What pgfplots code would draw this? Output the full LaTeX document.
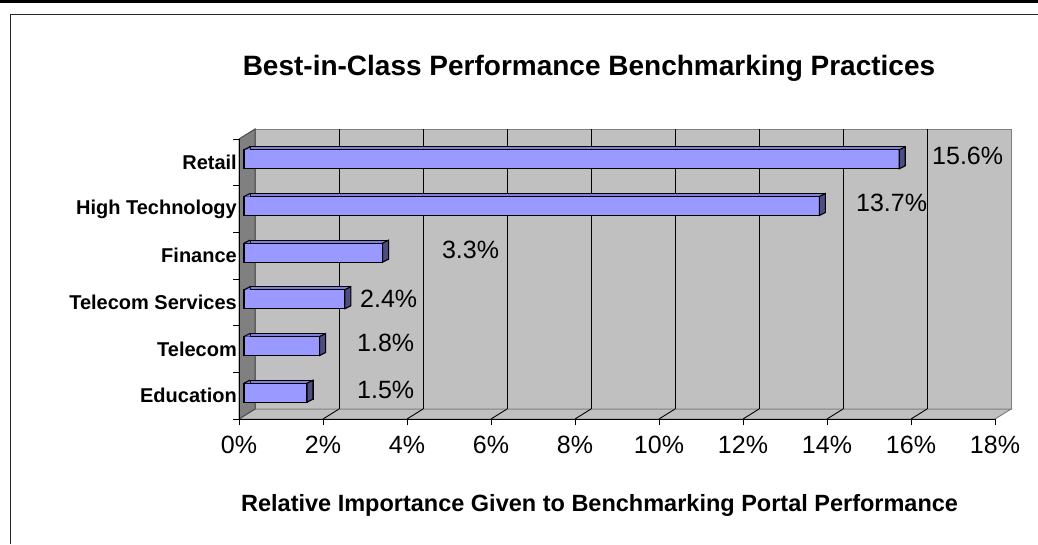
\documentclass[border=0pt]{standalone}
\usepackage{pgfplots}
\pgfplotsset{compat=1.18}
\usepackage{fontspec}
\setmainfont{Liberation Sans}
\definecolor{barfront}{HTML}{9999FF}
\definecolor{bartop}{HTML}{8080D8}
\definecolor{barside}{HTML}{4D4D80}
\definecolor{wall}{HTML}{C0C0C0}
\definecolor{sidewall}{HTML}{808080}
\pgfdeclareplotmark{barcap}{%
  \pgfpathmoveto{\pgfqpoint{5pt}{-6.5pt}}%
  \pgfpathlineto{\pgfqpoint{5pt}{12.5pt}}%
  \pgfpathlineto{\pgfqpoint{11pt}{15.5pt}}%
  \pgfpathlineto{\pgfqpoint{11pt}{-3.5pt}}%
  \pgfpathclose
  \pgfusepathqfillstroke}
\pgfdeclareplotmark{barstart}{%
  \pgfpathmoveto{\pgfqpoint{5pt}{12.5pt}}%
  \pgfpathlineto{\pgfqpoint{11pt}{15.5pt}}%
  \pgfpathlineto{\pgfqpoint{11pt}{12.5pt}}%
  \pgfpathclose
  \pgfusepathqfill
  \pgfpathmoveto{\pgfqpoint{5pt}{12.5pt}}%
  \pgfpathlineto{\pgfqpoint{11pt}{15.5pt}}%
  \pgfusepathqstroke}
\pgfplotstableread{
val idx
1.5 0
1.8 1
2.4 2
3.3 3
13.7 4
15.6 5
}\datatable
\pgfplotstableread{
x y
0 0
0 1
0 2
0 3
0 4
0 5
}\starttable
\begin{document}
\begin{tikzpicture}
\draw[black, line width=2.7pt] (0pt,542.65pt) -- (1038pt,542.65pt);
\draw[black!85, line width=1.8pt] (10.5pt,0pt) -- (10.5pt,529.5pt) -- (1038pt,529.5pt);
\begin{axis}[
  set layers,
  at={(239pt,125pt)}, anchor=south west,
  scale only axis, width=756pt, height=280pt,
  xmin=0, xmax=18, ymin=-0.5, ymax=5.5,
  clip=false,
  axis x line=bottom, axis y line=left,
  axis line style={-, black, line width=1pt},
  xtick={0,2,...,18},
  xticklabels={0\%,2\%,4\%,6\%,8\%,10\%,12\%,14\%,16\%,18\%},
  ytick={0,1,2,3,4,5},
  yticklabels={Education,Telecom,Telecom Services,Finance,High Technology,Retail},
  tick align=outside, major tick length=6pt,
  xtick style={black, line width=0.8pt},
  ytick style={draw=none},
  xticklabel style={font=\fontsize{25}{25}\selectfont, inner sep=0pt, yshift=-11pt},
  yticklabel style={font=\bfseries\fontsize{20}{20}\selectfont, inner sep=0pt, xshift=4pt},
  title={Best-in-Class Performance Benchmarking Practices},
  title style={font=\bfseries\fontsize{28}{28}\selectfont, anchor=base, yshift=0pt, at={(axis description cs:0.463,1.2036)}},
  xlabel={Relative Importance Given to Benchmarking Portal Performance},
  xlabel style={font=\bfseries\fontsize{23.5}{23.5}\selectfont, anchor=base, at={(axis description cs:0.477,-0.332)}},
]
\begin{pgfonlayer}{axis background}
  \filldraw[fill=wall, draw=sidewall, line width=1pt] ([xshift=16pt,yshift=10pt]axis cs:0,-0.5) rectangle ([xshift=16pt,yshift=10pt]axis cs:18,5.5);
  \filldraw[fill=wall, draw=sidewall, line width=1pt] (axis cs:0,-0.5) -- (axis cs:18,-0.5) -- ++(16pt,10pt) -- ([xshift=16pt,yshift=10pt]axis cs:0,-0.5) -- cycle;
  \filldraw[fill=sidewall, draw=black!70, line width=1pt] (axis cs:0,-0.5) -- (axis cs:0,5.5) -- ++(16pt,10pt) -- ([xshift=16pt,yshift=10pt]axis cs:0,-0.5) -- cycle;
  \pgfplotsinvokeforeach{2,4,...,16}{%
    \draw[black, line width=0.9pt] ([xshift=16pt,yshift=10pt]axis cs:#1,-0.5) -- ([xshift=16pt,yshift=10pt]axis cs:#1,5.5);
    \draw[black, line width=0.9pt] (axis cs:#1,-0.5) -- ++(16pt,10pt);
  }
  \pgfplotsinvokeforeach{-0.5,0.5,1.5,2.5,3.5,4.5,5.5}{%
    \draw[black, line width=0.8pt] (axis cs:0,#1) -- ++(-6pt,0pt);
  }
\end{pgfonlayer}
% back copy -> top face
\addplot[xbar, bar width=19pt, bar shift=6pt, xshift=11pt, fill=bartop, draw=black, line width=1.1pt] table[x=val, y=idx] {\datatable};
% front face
\addplot[xbar, bar width=19pt, bar shift=3pt, xshift=5pt, fill=barfront, draw=black, line width=1.1pt] table[x=val, y=idx] {\datatable};
% end caps
\addplot[only marks, mark=barcap, mark options={fill=barside, draw=black, line width=1.1pt}] table[x=val, y=idx] {\datatable};
% top-left bevel
\addplot[only marks, mark=barstart, mark options={fill=bartop, draw=black, line width=1.1pt}] table[x=x, y=y] {\starttable};
% data labels
\begin{scope}[every node/.style={anchor=west, inner sep=0pt, font=\fontsize{25}{25}\selectfont}]
\node at (axis cs:16.50,5.135) {15.6\%};
\node at (axis cs:14.69,4.13) {13.7\%};
\node at (axis cs:4.83,3.12) {3.3\%};
\node at (axis cs:2.88,2.08) {2.4\%};
\node at (axis cs:2.81,1.13) {1.8\%};
\node at (axis cs:2.81,0.13) {1.5\%};
\end{scope}
\end{axis}
\pgfresetboundingbox
\path[use as bounding box] (0pt,0pt) rectangle (1038pt,544pt);
\end{tikzpicture}
\end{document}
